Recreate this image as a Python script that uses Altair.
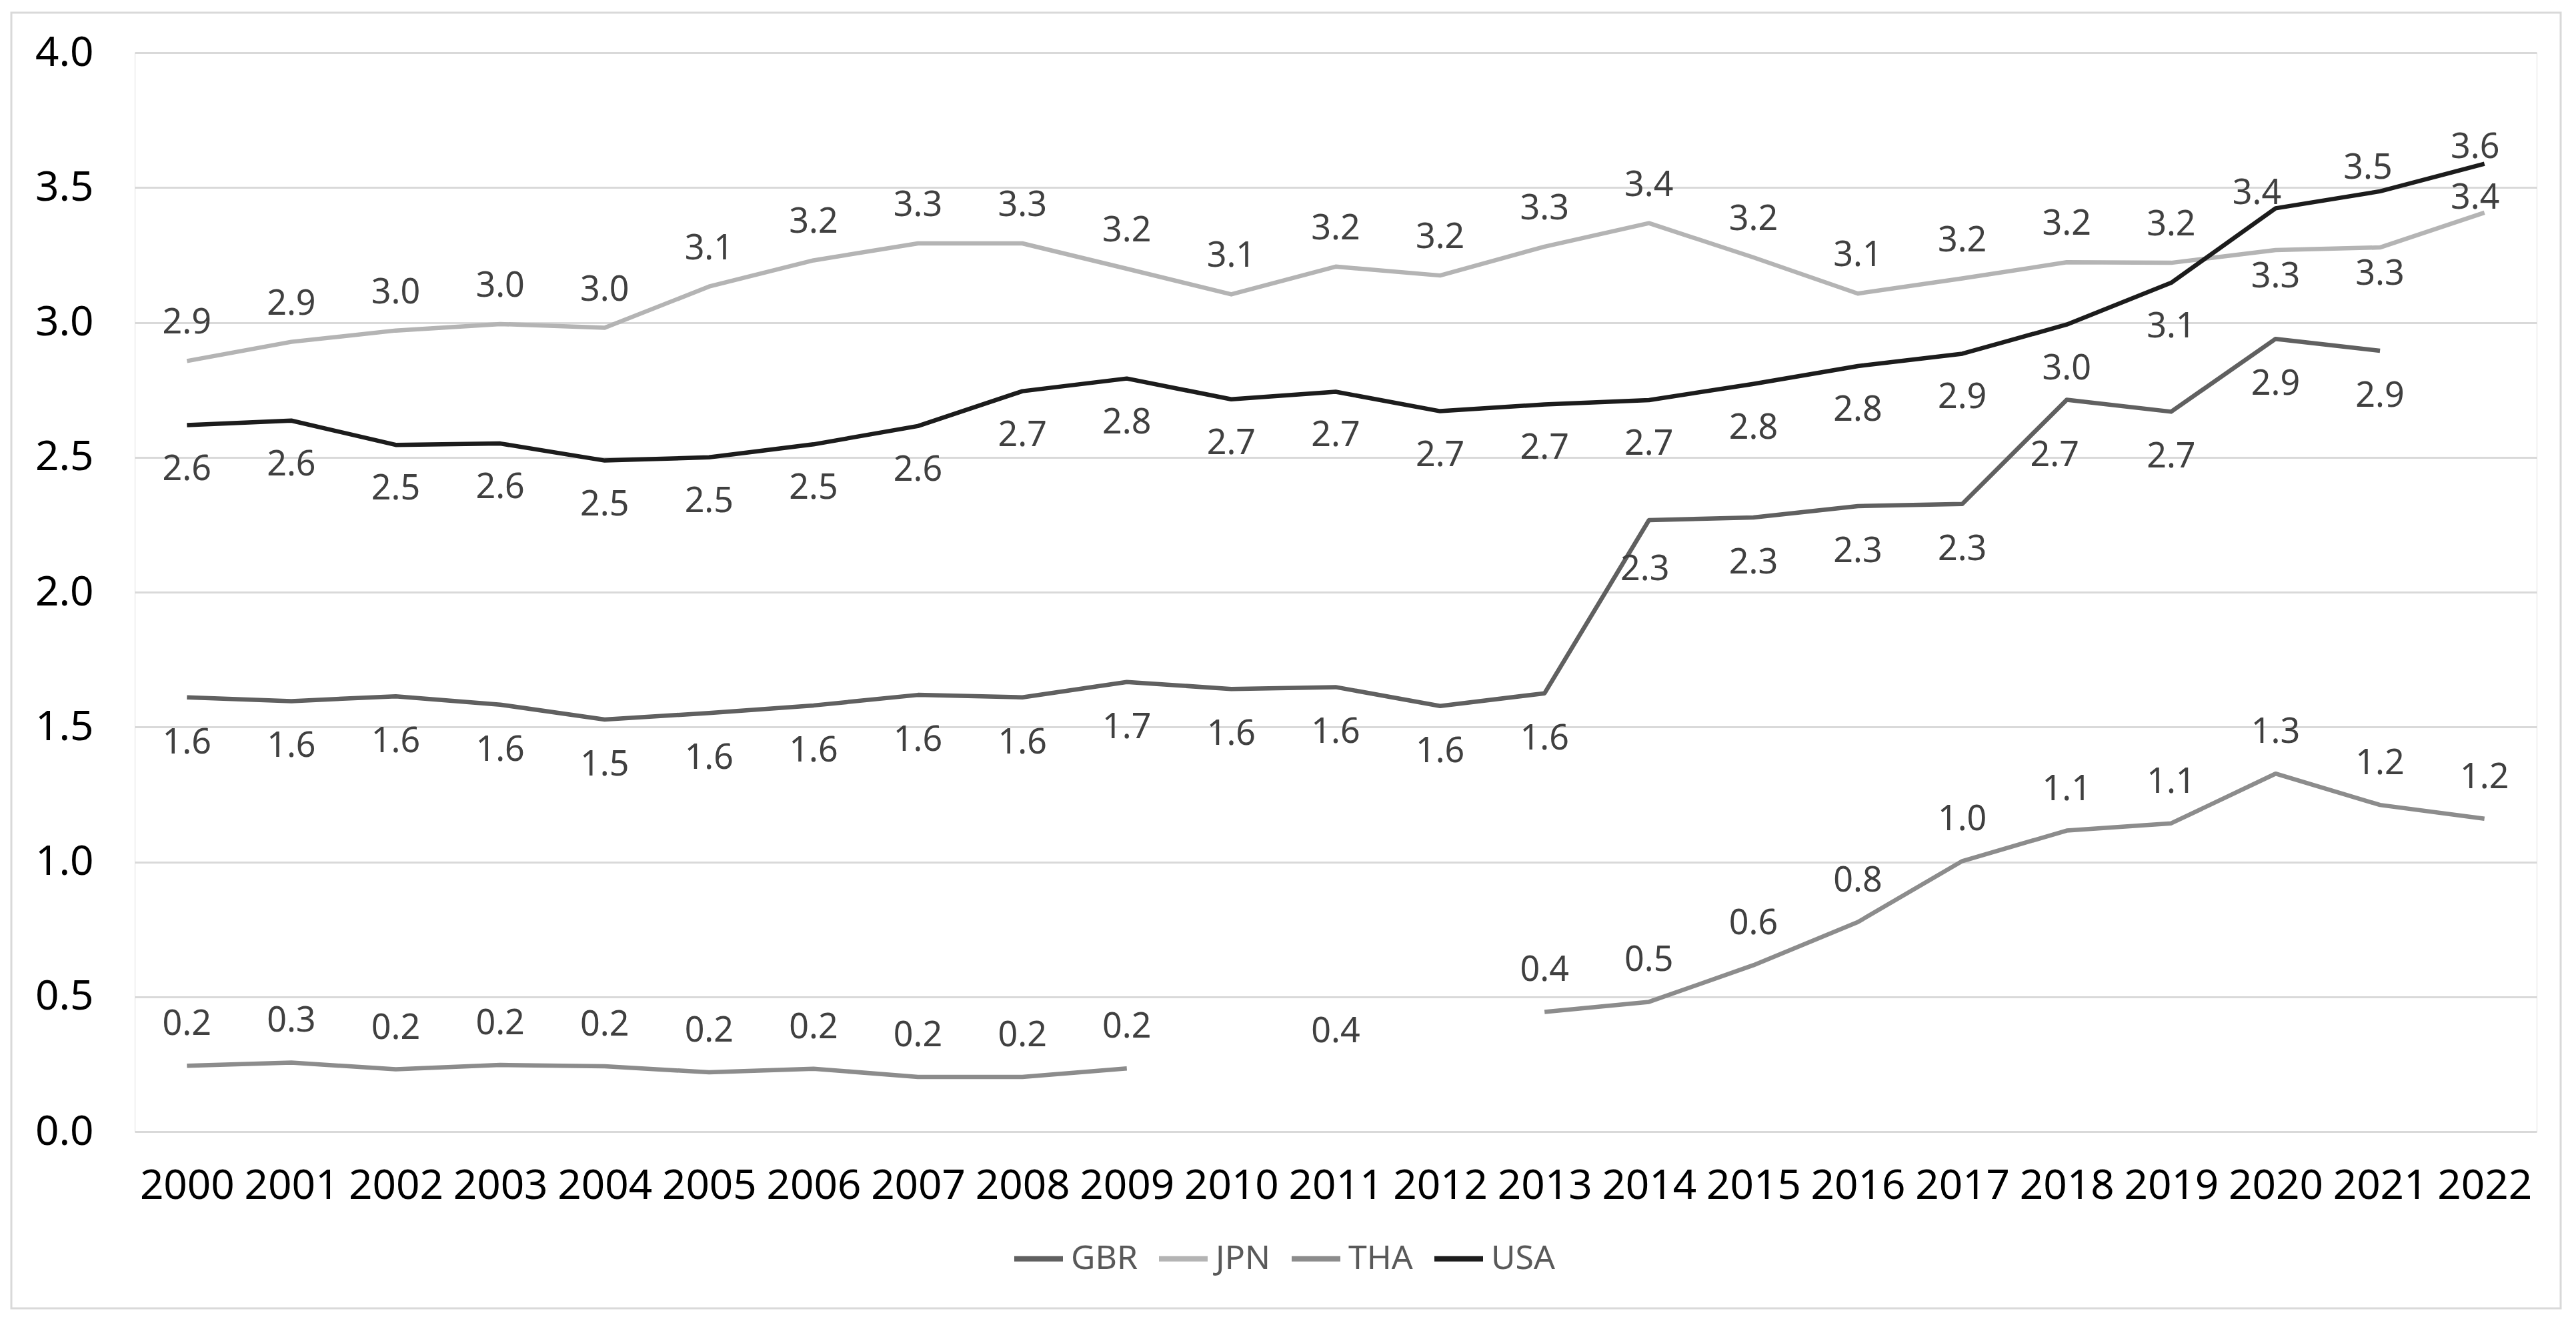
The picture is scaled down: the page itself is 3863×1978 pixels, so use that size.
import altair as alt
import pandas as pd

years = list(range(2000, 2023))
countries = ["GBR", "JPN", "THA", "USA"]

gbr = [1.610, 1.596, 1.614, 1.583, 1.528, 1.552, 1.580, 1.619, 1.610, 1.667, 1.641, 1.648,
       1.578, 1.625, 2.267, 2.277, 2.319, 2.327, 2.713, 2.669, 2.939, 2.895, None]
jpn = [2.857, 2.928, 2.970, 2.994, 2.980, 3.133, 3.230, 3.293, 3.293, 3.199, 3.104, 3.207,
       3.174, 3.281, 3.368, 3.241, 3.107, 3.163, 3.223, 3.221, 3.268, 3.278, 3.407]
tha = [0.244, 0.256, 0.231, 0.247, 0.242, 0.220, 0.233, 0.203, 0.203, 0.234, None, 0.400,
       None, 0.444, 0.481, 0.617, 0.777, 1.003, 1.116, 1.143, 1.327, 1.211, 1.160]
usa = [2.619, 2.636, 2.546, 2.551, 2.488, 2.500, 2.548, 2.616, 2.745, 2.792, 2.715, 2.743,
       2.671, 2.696, 2.712, 2.772, 2.838, 2.884, 2.992, 3.147, 3.423, 3.486, 3.588]

series = {"GBR": gbr, "JPN": jpn, "THA": tha, "USA": usa}
colors = ["#606060", "#b4b4b4", "#8c8c8c", "#1c1c1c"]
y_ticks = [0.0, 0.5, 1.0, 1.5, 2.0, 2.5, 3.0, 3.5, 4.0]

# label placement (style): default per series, plus a few hand-moved labels
default_offsets = {"GBR": (0, 68), "JPN": (0, -57), "THA": (0, -62), "USA": (0, 66)}
label_offsets = {
    ("JPN", 2020): (0, 40), ("JPN", 2021): (0, 40), ("JPN", 2022): (-14, -22),
    ("USA", 2020): (-28, -22), ("USA", 2021): (-18, -35), ("USA", 2022): (-14, -25),
    ("GBR", 2014): (-6, 74), ("GBR", 2018): (-18, 83), ("THA", 2011): (0, 12),
}

rows = []
for c in countries:
    seg = 0
    for yr, v in zip(years, series[c]):
        if v is None:
            seg += 1
            continue
        rows.append({"year": yr, "country": c, "value": v,
                     "seg": f"{c}{seg}", "key": f"{c}-{yr}"})
df = pd.DataFrame(rows)

FONT = "Noto Sans"

x_enc = alt.X("year:O", scale=alt.Scale(type="point", padding=0.5),
              axis=alt.Axis(title=None, labelAngle=0, labelFontSize=62, labelFont=FONT,
                            labelColor="#000000", labelPadding=51, grid=False,
                            domain=False, ticks=False))
y_enc = alt.Y("value:Q", scale=alt.Scale(domain=[0, 4], nice=False, zero=True),
              axis=alt.Axis(title=None, values=y_ticks, format=".1f", labelFontSize=62,
                            labelFont=FONT, labelColor="#000000", labelPadding=62,
                            grid=True, gridColor="#d9d9d9", gridWidth=3,
                            domain=False, ticks=False))

base = alt.Chart(df)

lines = base.mark_line(strokeWidth=6.5, strokeJoin="round").encode(
    x=x_enc,
    y=y_enc,
    color=alt.Color("country:N",
                    scale=alt.Scale(domain=countries, range=colors),
                    legend=alt.Legend(title=None, orient="none", legendX=1315, legendY=1768,
                                      direction="horizontal", columns=4,
                                      symbolType="stroke", symbolSize=5329,
                                      symbolStrokeWidth=8, labelFontSize=50,
                                      labelFont=FONT, labelColor="#595959",
                                      columnPadding=16, labelOffset=8, padding=0)),
    detail="seg:N",
)

# group label keys by offset
groups = {}
for r in rows:
    off = label_offsets.get((r["country"], r["year"]), default_offsets[r["country"]])
    groups.setdefault(off, []).append(r["key"])

text_layers = []
for (dx, dy), keys in groups.items():
    text_layers.append(
        base.transform_filter(alt.FieldOneOfPredicate(field="key", oneOf=keys))
        .mark_text(dx=dx, dy=dy, fontSize=52, font=FONT, color="#404040",
                   align="center", baseline="middle")
        .encode(x=x_enc, y=y_enc, text=alt.Text("value:Q", format=".1f"))
    )

border = alt.Chart(pd.DataFrame({"a": [0]})).mark_rect(
    fill=None, stroke="#d9d9d9", strokeWidth=3
).encode(x=alt.value(-185), x2=alt.value(3638), y=alt.value(-60), y2=alt.value(1883))

chart = alt.layer(border, lines, *text_layers).properties(
    width=3602, height=1618,
    autosize=alt.AutoSizeParams(type="none"),
    padding={"left": 194, "top": 71, "right": 51, "bottom": 273},
).configure_view(stroke=None).configure(background="white")

chart.save("out.html", embed_options={"renderer": "svg", "actions": False})
